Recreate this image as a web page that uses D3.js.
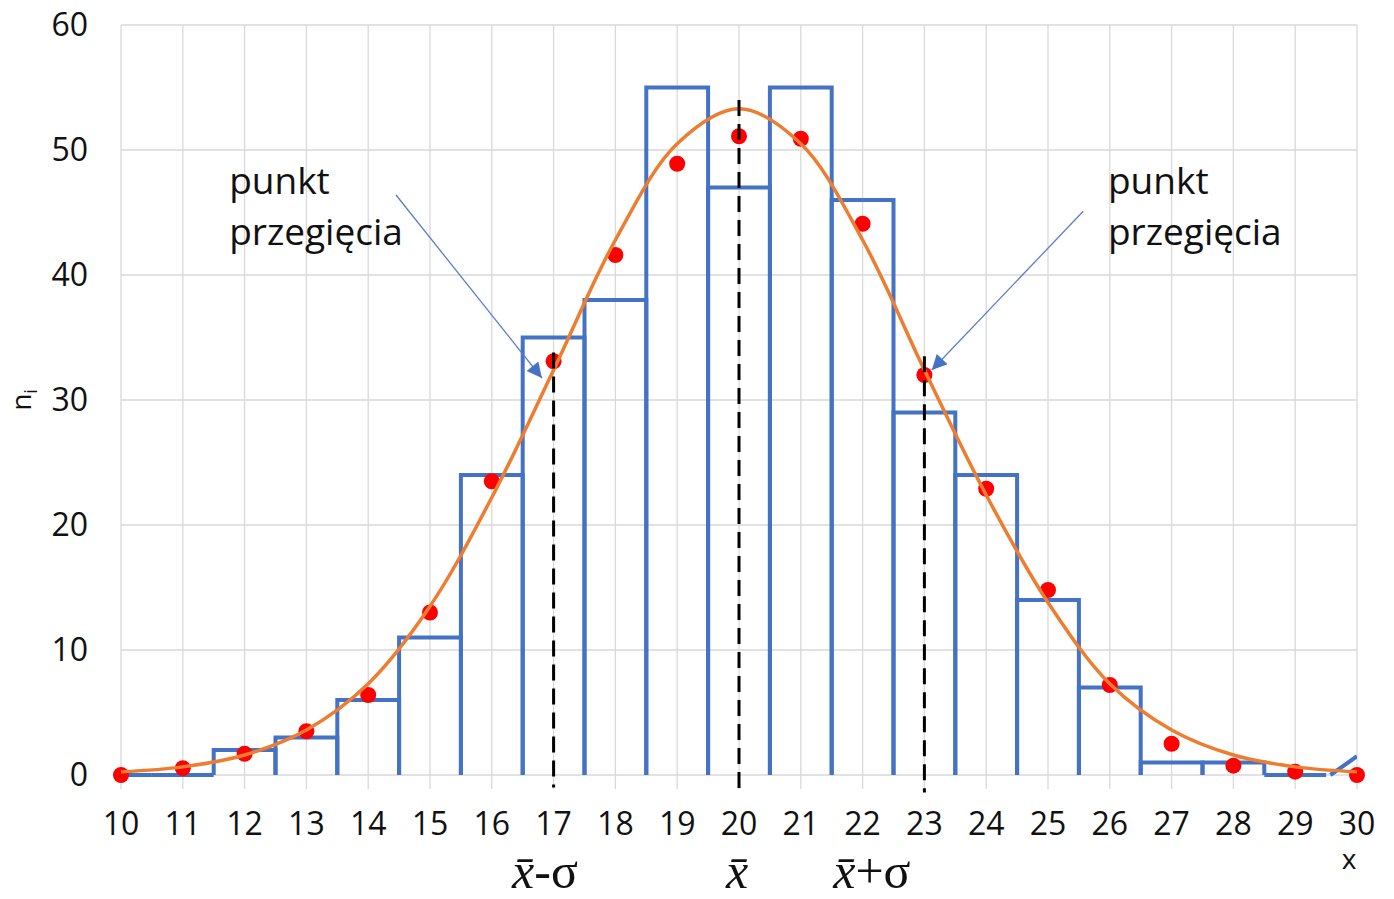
<html>
<head>
  <script src="https://d3js.org/d3.v7.min.js"></script>
  <style>
  body{ margin:0; background:#fff; }
  svg{ display:block; }
  text{ font-family:"Open Sans", sans-serif; fill:#111; }
  </style>
</head>
<body>
  <script type="text/javascript">
    // histogram: bin centres and counts
    var binCenter = [10,11,12,13,14,15,16,17,18,19,20,21,22,23,24,25,26,27,28,29];
    var binCount  = [0,0,2,3,6,11,24,35,38,55,47,55,46,29,24,14,7,1,1,0];
    // empirical points (red)
    var dotX = [10,11,12,13,14,15,16,17,18,19,20,21,22,23,24,25,26,27,28,29,30];
    var dotY = [0,0.55,1.7,3.5,6.4,13.0,23.5,33.1,41.6,48.9,51.1,50.9,44.1,32.0,22.9,14.8,7.2,2.5,0.75,0.27,0];
    // fitted curve (orange)
    var curveX = [10,11,12,13,14,15,16,17,18,19,20,21,22,23,24,25,26,27,28,29,30];
    var curveY = [0.25,0.65,1.6,3.6,7.3,13.5,22.2,32.4,42.8,50.5,53.3,50.5,42.8,32.4,22.4,13.8,7.3,3.6,1.6,0.65,0.25];
    // the stray end of the histogram outline
    var tailX = [29.57,30];
    var tailY = [0,1.5];
    // dashed markers
    var markX   = [17,20,23];
    var markTop = [33.8,54,33.5];
    var markBot = [-1.0,-1.6,-1.4];
    var markLabel = ["x\u0304-\u03C3","x\u0304","x\u0304+\u03C3"];
    var markLabelX = [16.86,19.97,22.15];
    var xTicks = [10,11,12,13,14,15,16,17,18,19,20,21,22,23,24,25,26,27,28,29,30];
    var yTicks = [0,10,20,30,40,50,60];

    var width = 1394, height = 899;
    var blue = "#4472C4", orange = "#ED7D31", grid = "#d9d9d9";

    var x = d3.scaleLinear().domain([10,30]).range([121,1357]);
    var y = d3.scaleLinear().domain([0,60]).range([775,25]);

    var svg = d3.select("body").append("svg")
                .attr("width",width)
                .attr("height",height);

    svg.append("defs").append("clipPath").attr("id","plot")
       .append("rect")
       .attr("x",x(10)).attr("y",y(60))
       .attr("width",x(30)-x(10)).attr("height",y(0)-y(60)+2);

    svg.append("marker")
       .attr("id","arr")
       .attr("viewBox","0 0 10 10")
       .attr("refX",10).attr("refY",5)
       .attr("markerUnits","userSpaceOnUse")
       .attr("markerWidth",18).attr("markerHeight",15)
       .attr("orient","auto")
       .append("path")
       .attr("d","M0,0 L10,5 L0,10 Z")
       .attr("fill",blue);

    // grid
    svg.selectAll(".gx").data(xTicks).enter().append("line")
       .attr("x1",d => x(d)).attr("x2",d => x(d))
       .attr("y1",y(60)).attr("y2",y(0)+14)
       .attr("stroke",grid).attr("stroke-width",1.3);
    svg.selectAll(".gy").data(yTicks).enter().append("line")
       .attr("x1",x(10)).attr("x2",x(30))
       .attr("y1",d => y(d)).attr("y2",d => y(d))
       .attr("stroke",grid).attr("stroke-width",1.3);

    // tick labels
    svg.selectAll(".tx").data(xTicks).enter().append("text")
       .attr("x",d => x(d)).attr("y",y(0)+60)
       .attr("text-anchor","middle")
       .style("font-size","32px")
       .text(d => d);
    svg.selectAll(".ty").data(yTicks).enter().append("text")
       .attr("x",88).attr("y",d => y(d)+11)
       .attr("text-anchor","end")
       .style("font-size","32px")
       .text(d => d);

    var g = svg.append("g").attr("clip-path","url(#plot)");

    // histogram outline, open at the bottom
    g.selectAll(".bar").data(binCenter).enter().append("path")
     .attr("d",function(d,i){
       var lo = x(d-0.5), hi = x(d+0.5), top = y(binCount[i]);
       return "M"+lo+","+y(0)+"V"+top+"H"+hi+"V"+y(0);
     })
     .attr("fill","none")
     .attr("stroke",blue)
     .attr("stroke-width",4);

    g.append("path")
     .datum(tailX)
     .attr("d",d3.line().x(d => x(d)).y((d,i) => y(tailY[i])))
     .attr("fill","none").attr("stroke",blue).attr("stroke-width",4);

    // red points
    svg.selectAll(".dot").data(dotX).enter().append("circle")
       .attr("cx",d => x(d)).attr("cy",(d,i) => y(dotY[i]))
       .attr("r",8)
       .attr("fill","#ff0000");

    // orange curve
    svg.append("path")
       .datum(curveX)
       .attr("d",d3.line().curve(d3.curveCatmullRom)
                 .x(d => x(d)).y((d,i) => y(curveY[i])))
       .attr("fill","none")
       .attr("stroke",orange)
       .attr("stroke-width",3.5);

    // dashed lines
    svg.selectAll(".mk").data(markX).enter().append("line")
       .attr("x1",d => x(d)).attr("x2",d => x(d))
       .attr("y1",(d,i) => y(markTop[i])).attr("y2",(d,i) => y(markBot[i]))
       .attr("stroke","#000")
       .attr("stroke-width",3)
       .attr("stroke-dasharray","16,8");

    svg.selectAll(".ml").data(markLabel).enter().append("text")
       .attr("x",(d,i) => x(markLabelX[i])).attr("y",888)
       .attr("text-anchor","middle")
       .style("font-family","'Liberation Serif', serif")
       .style("font-size","50px")
       .each(function(d){
         var t = d3.select(this);
         t.append("tspan").style("font-style","italic").text(d.slice(0,2));
         t.append("tspan").text(d.slice(2));
       });

    // annotations
    var notes = [
      {tx:11.75, x1:14.45, y1:46.4, x2:16.81, y2:31.76},
      {tx:25.97, x1:25.57, y1:45.1, x2:23.12, y2:32.4}
    ];
    notes.forEach(function(n){
      svg.append("line")
         .attr("x1",x(n.x1)).attr("y1",y(n.y1))
         .attr("x2",x(n.x2)).attr("y2",y(n.y2))
         .attr("stroke","#5b7fc4").attr("stroke-width",1.3)
         .attr("marker-end","url(#arr)");
      var t = svg.append("text").attr("x",x(n.tx)).style("font-size","37px");
      t.append("tspan").attr("x",x(n.tx)).attr("y",y(46.5)).text("punkt");
      t.append("tspan").attr("x",x(n.tx)).attr("y",y(42.4)).text("przegięcia");
    });

    // axis titles
    svg.append("text")
       .attr("x",1349).attr("y",869)
       .attr("text-anchor","middle")
       .style("font-size","28px")
       .text("x");
    svg.append("text")
       .attr("transform","translate(31,400) rotate(-90)")
       .attr("text-anchor","middle")
       .style("font-size","28px")
       .html("n<tspan dy='6' style='font-size:18px'>i</tspan>");
  </script>
</body>
</html>
